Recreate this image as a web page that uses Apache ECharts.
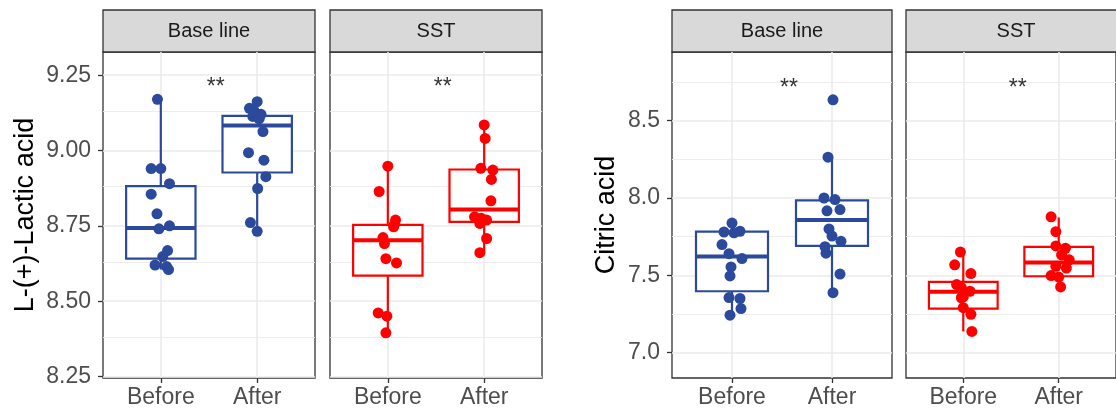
<!DOCTYPE html>
<html>
<head>
<meta charset="utf-8">
<script src="https://cdn.jsdelivr.net/npm/echarts@6/dist/echarts.min.js"></script>
<style>
html, body { margin: 0; padding: 0; background: #fff; }
#main { width: 1116px; height: 411px; }
</style>
</head>
<body>
<div id="main"></div>
<script>
var groups = ['Before', 'After'];
var facets = ['Base line', 'SST'];
var yTitles = ['L-(+)-Lactic acid', 'Citric acid'];

// L-(+)-Lactic acid: points (value) and horizontal jitter (in category units)
var lacticBaseBefore = [9.17, 8.94, 8.94, 8.89, 8.855, 8.79, 8.74, 8.75, 8.668, 8.648, 8.62, 8.615, 8.605];
var lacticBaseBeforeJit = [-0.035, -0.1, 0, 0.09, -0.1, -0.04, -0.02, 0.09, 0.07, 0.02, -0.06, 0.06, 0.08];
var lacticBaseAfter = [9.162, 9.14, 9.13, 9.12, 9.113, 9.105, 9.063, 8.993, 8.968, 8.913, 8.874, 8.761, 8.732];
var lacticBaseAfterJit = [0, -0.08, -0.03, 0.04, -0.045, 0.02, 0.06, -0.09, 0.07, 0.09, 0.005, -0.07, 0];
var lacticSstBefore = [8.948, 8.864, 8.769, 8.755, 8.747, 8.711, 8.691, 8.641, 8.627, 8.461, 8.45, 8.395];
var lacticSstBeforeJit = [0, -0.09, 0.08, 0.07, 0.06, -0.05, -0.035, -0.02, 0.09, -0.1, -0.01, -0.02];
var lacticSstAfter = [9.085, 9.04, 8.941, 8.935, 8.904, 8.833, 8.78, 8.775, 8.769, 8.758, 8.708, 8.661];
var lacticSstAfterJit = [0, 0.01, -0.035, 0.09, 0.075, 0.07, -0.1, -0.03, 0.025, -0.045, 0.025, -0.045];
// box stats: [lower whisker, Q1, median, Q3, upper whisker]
var lacticBaseBox = [[8.605, 8.641, 8.743, 8.882, 9.173], [8.732, 8.927, 9.083, 9.115, 9.162]];
var lacticSstBox = [[8.395, 8.585, 8.702, 8.753, 8.948], [8.661, 8.763, 8.804, 8.937, 9.085]];

// Citric acid
var citricBaseBefore = [7.838, 7.785, 7.78, 7.775, 7.699, 7.64, 7.608, 7.554, 7.496, 7.356, 7.35, 7.285, 7.242];
var citricBaseBeforeJit = [0, 0.08, -0.08, 0.02, -0.1, -0.03, 0.1, -0.01, -0.02, -0.03, 0.08, 0.09, -0.02];
var citricBaseAfter = [8.635, 8.264, 8.0, 7.99, 7.925, 7.917, 7.8, 7.754, 7.72, 7.685, 7.643, 7.508, 7.388];
var citricBaseAfterJit = [0.01, -0.04, -0.08, 0.03, 0.08, -0.05, -0.03, 0, 0.09, -0.07, -0.06, 0.08, 0.01];
var citricSstBefore = [7.65, 7.568, 7.511, 7.44, 7.42, 7.397, 7.36, 7.355, 7.291, 7.248, 7.137];
var citricSstBeforeJit = [-0.03, -0.09, 0.08, -0.07, -0.02, 0.07, 0, -0.02, 0, 0.08, 0.09];
var citricSstAfter = [7.878, 7.782, 7.69, 7.675, 7.632, 7.6, 7.558, 7.547, 7.498, 7.489, 7.425];
var citricSstAfterJit = [-0.08, -0.03, -0.03, 0.07, 0.03, 0.11, -0.03, 0.08, -0.08, 0, 0.02];
var citricBaseBox = [[7.242, 7.397, 7.622, 7.782, 7.838], [7.388, 7.69, 7.857, 7.985, 8.264]];
var citricSstBox = [[7.137, 7.284, 7.393, 7.457, 7.65], [7.425, 7.494, 7.583, 7.684, 7.874]];

// axis ticks
var lacticTicks = [8.25, 8.5, 8.75, 9.0, 9.25];
var lacticMinor = [8.375, 8.625, 8.875, 9.125];
var citricTicks = [7.0, 7.5, 8.0, 8.5];
var citricMinor = [7.25, 7.75, 8.25, 8.75];
var sigLabel = '**';
var sigPos = [[1.57, 9.207], [1.57, 9.207], [1.57, 8.708], [1.57, 8.708]];

var BLUE = '#2c4a9c';
var RED = '#ff0000';
var FONT = '"Liberation Sans", Arial, Helvetica, sans-serif';

var axesSpec = [
    { min: 8.245, max: 9.327, ticks: lacticTicks, minor: lacticMinor, dec: 2, nameGap: 64 },
    { min: 6.836, max: 8.944, ticks: citricTicks, minor: citricMinor, dec: 1, nameGap: 52 }
];

var panels = [
    { chart: 0, facet: 0, color: BLUE, left: 103, width: 212, box: lacticBaseBox,
      pts: [lacticBaseBefore, lacticBaseAfter], jit: [lacticBaseBeforeJit, lacticBaseAfterJit] },
    { chart: 0, facet: 1, color: RED, left: 330, width: 212, box: lacticSstBox,
      pts: [lacticSstBefore, lacticSstAfter], jit: [lacticSstBeforeJit, lacticSstAfterJit] },
    { chart: 1, facet: 0, color: BLUE, left: 672, width: 220, box: citricBaseBox,
      pts: [citricBaseBefore, citricBaseAfter], jit: [citricBaseBeforeJit, citricBaseAfterJit] },
    { chart: 1, facet: 1, color: RED, left: 906, width: 220, box: citricSstBox,
      pts: [citricSstBefore, citricSstAfter], jit: [citricSstBeforeJit, citricSstAfterJit] }
];

var PANEL_TOP = 52, PANEL_H = 326, STRIP_TOP = 10, STRIP_H = 42;

function renderBox(params, api) {
    var x = api.value(0);
    var half = api.size([0.72, 0])[0] / 2;
    var lo = api.coord([x, api.value(1)]);
    var q1 = api.coord([x, api.value(2)]);
    var md = api.coord([x, api.value(3)]);
    var q3 = api.coord([x, api.value(4)]);
    var hi = api.coord([x, api.value(5)]);
    var c = api.visual('color');
    return {
        type: 'group',
        children: [
            { type: 'line', shape: { x1: q3[0], y1: hi[1], x2: q3[0], y2: q3[1] }, style: { stroke: c, lineWidth: 2.2 } },
            { type: 'line', shape: { x1: q1[0], y1: q1[1], x2: q1[0], y2: lo[1] }, style: { stroke: c, lineWidth: 2.2 } },
            { type: 'rect', shape: { x: q3[0] - half, y: q3[1], width: half * 2, height: q1[1] - q3[1] },
              style: { fill: '#fff', stroke: c, lineWidth: 2.2 } },
            { type: 'line', shape: { x1: md[0] - half, y1: md[1], x2: md[0] + half, y2: md[1] },
              style: { stroke: c, lineWidth: 4 } }
        ]
    };
}

var grids = [], xAxes = [], yAxes = [], series = [], graphics = [];

panels.forEach(function (p, i) {
    var spec = axesSpec[p.chart];
    var first = p.facet === 0;
    grids.push({ left: p.left, top: PANEL_TOP, width: p.width, height: PANEL_H,
        show: true, borderColor: '#333', borderWidth: 1.3 });
    xAxes.push({
        gridIndex: i, type: 'value', min: 0.4, max: 2.6,
        axisLine: { show: false }, splitLine: { show: false },
        axisTick: { customValues: [1, 2], length: 5, lineStyle: { color: '#333', width: 1.3 } },
        axisLabel: { customValues: [1, 2], margin: 8, fontSize: 23, color: '#4d4d4d', fontFamily: FONT,
            formatter: function (v) { return groups[Math.round(v) - 1]; } }
    });
    yAxes.push({
        gridIndex: i, type: 'value', min: spec.min, max: spec.max,
        name: first ? yTitles[p.chart] : '', nameLocation: 'middle', nameGap: spec.nameGap,
        nameTextStyle: { fontSize: 27, color: '#000', fontFamily: FONT },
        axisLine: { show: false }, splitLine: { show: false },
        axisTick: { show: first, customValues: spec.ticks, length: 5, lineStyle: { color: '#333', width: 1.3 } },
        axisLabel: { show: first, customValues: spec.ticks, margin: 12, fontSize: 23, color: '#4d4d4d', fontFamily: FONT,
            formatter: function (v) { return v.toFixed(spec.dec); } }
    });

    // grid lines
    var major = spec.ticks.map(function (v) { return { yAxis: v, lineStyle: { width: 1.6 } }; })
        .concat([1, 2].map(function (v) { return { xAxis: v, lineStyle: { width: 1.6 } }; }));
    var minor = spec.minor.map(function (v) { return { yAxis: v, lineStyle: { width: 0.9 } }; });
    series.push({
        type: 'scatter', xAxisIndex: i, yAxisIndex: i, data: [], z: 1, silent: true,
        markLine: { z: 1, silent: true, symbol: 'none', label: { show: false }, animation: false,
            lineStyle: { color: '#ebebeb', type: 'solid' }, data: major.concat(minor) }
    });

    series.push({
        type: 'custom', xAxisIndex: i, yAxisIndex: i, z: 2, silent: true,
        itemStyle: { color: p.color },
        renderItem: renderBox,
        encode: { x: 0, y: [1, 2, 3, 4, 5] },
        data: p.box.map(function (b, g) { return [g + 1].concat(b); })
    });

    var pts = [];
    p.pts.forEach(function (arr, g) {
        arr.forEach(function (v, k) { pts.push([g + 1 + p.jit[g][k], v]); });
    });
    series.push({
        type: 'scatter', xAxisIndex: i, yAxisIndex: i, z: 3, silent: true,
        symbolSize: 11, itemStyle: { color: p.color, opacity: 1 }, data: pts
    });

    series.push({
        type: 'scatter', xAxisIndex: i, yAxisIndex: i, z: 4, silent: true, symbolSize: 0,
        data: [sigPos[i]],
        label: { show: true, position: 'inside', formatter: sigLabel, fontSize: 23, color: '#000', fontFamily: FONT }
    });

    graphics.push({
        type: 'rect', shape: { x: p.left, y: STRIP_TOP, width: p.width, height: STRIP_H },
        style: { fill: '#d9d9d9', stroke: '#333', lineWidth: 1.3 }
    });
    graphics.push({
        type: 'text', x: p.left + p.width / 2, y: STRIP_TOP + STRIP_H / 2,
        style: { text: facets[p.facet], align: 'center', verticalAlign: 'middle',
            font: '20px ' + FONT, fill: '#1a1a1a' }
    });
});

var myChart = echarts.init(document.getElementById('main'));
myChart.setOption({
    backgroundColor: '#fff',
    animation: false,
    grid: grids,
    xAxis: xAxes,
    yAxis: yAxes,
    series: series,
    graphic: graphics
});
</script>
</body>
</html>
